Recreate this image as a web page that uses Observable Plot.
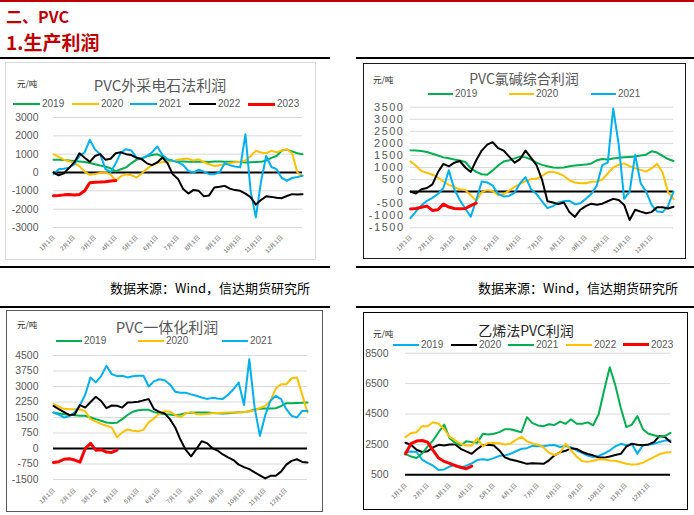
<!DOCTYPE html>
<html><head><meta charset="utf-8">
<script src="https://cdn.jsdelivr.net/npm/d3@7"></script>
<script src="https://cdn.jsdelivr.net/npm/@observablehq/plot@0.6"></script>
<style>
html,body{margin:0;padding:0;background:#fff;}
#page{position:relative;width:694px;height:515px;overflow:hidden;background:#fff;font-family:"Liberation Sans",Arial,"Noto Sans CJK SC",sans-serif;}
.hline{position:absolute;height:1.5px;background:#000;}
.box{position:absolute;box-sizing:border-box;}
.wrap{position:absolute;}
.wrap svg{display:block;overflow:visible;}
.unit{position:absolute;font-size:8.5px;color:#262626;font-family:"Noto Sans CJK SC",sans-serif;line-height:1;transform:translateY(-50%);white-space:nowrap;}
.title{position:absolute;font-size:15px;color:#595959;font-family:"Noto Sans CJK SC",sans-serif;line-height:1;white-space:nowrap;transform:translate(-50%,-50%);}
.leg{position:absolute;display:flex;align-items:center;font-size:10px;color:#595959;line-height:1;transform:translateY(-50%);white-space:nowrap;}
.leg .sw{display:inline-block;margin-right:2px;}
.src{position:absolute;font-size:13px;color:#000;font-family:"Noto Sans CJK SC",sans-serif;white-space:nowrap;line-height:1;transform:translateY(-50%);}
.head{position:absolute;color:#c00000;font-weight:bold;font-family:"Noto Sans CJK SC",sans-serif;line-height:1;transform:translateY(-50%);white-space:nowrap;}
.wide g[aria-label="y-axis tick label"] text{letter-spacing:1.5px;}
</style></head>
<body><div id="page"></div>
<script>
// ---------- data ----------
const STEP = 0.25; // sampling interval of every series, in months from 1月1日
const MONTH_TICKS = [0,1,2,3,4,5,6,7,8,9,10,11];
const MONTH_LABELS = ["1月1日","2月1日","3月1日","4月1日","5月1日","6月1日","7月1日","8月1日","9月1日","10月1日","11月1日","12月1日"];
const YEARS = ["2019","2020","2021","2022","2023"];

// PVC外采电石法利润
const wc2019 = [690,690,680,660,630,600,570,520,450,380,320,230,60,180,280,500,700,780,880,950,1000,850,700,640,600,600,580,580,580,580,570,600,600,590,580,580,570,550,560,570,580,650,800,900,1200,1250,1150,1050,1000];
const wc2020 = [1000,850,700,620,520,350,50,-130,-80,-20,0,-100,-450,-200,-100,-150,-270,-50,200,400,530,560,580,620,700,740,760,650,720,560,450,360,400,450,520,560,580,650,900,1180,1090,1050,1180,1100,1200,1270,1050,0,-180];
const wc2021 = [-90,180,200,260,450,900,1100,1780,1250,1000,200,20,500,1100,1270,1200,820,750,900,1100,1420,950,720,640,550,400,80,0,150,50,-90,-90,0,500,400,330,280,2090,-1000,-2450,-500,900,300,180,-300,-450,-300,-250,-180];
const wc2022 = [0,-150,-50,250,550,1050,800,580,900,1000,700,750,1050,1100,1000,950,800,730,500,400,550,820,500,-100,-350,-900,-1150,-950,-1000,-1300,-1250,-820,-780,-730,-880,-960,-1000,-1150,-1350,-1750,-1500,-1300,-1330,-1380,-1400,-1280,-1180,-1200,-1180];
const wc2023 = [-1270,-1250,-1220,-1200,-1230,-1200,-1000,-560,-530,-520,-500,-460,-440];
const wcTicks = [-3000,-2000,-1000,0,1000,2000,3000];

// PVC氯碱综合利润
const lj2019 = [1710,1700,1680,1640,1570,1500,1420,1380,1330,1290,1230,970,820,720,700,880,1080,1250,1300,1380,1450,1420,1330,1200,1110,1050,1000,990,1000,1050,1080,1100,1120,1170,1300,1350,1330,1370,1400,1420,1440,1460,1500,1530,1670,1620,1480,1350,1270];
const lj2020 = [1250,1070,850,780,700,580,420,280,180,100,70,-150,-380,-20,60,20,-150,-100,40,200,320,440,520,530,650,800,820,760,650,470,380,350,350,410,420,500,750,1000,1110,1170,1050,970,900,830,960,1150,800,-20,-310];
const lj2021 = [-1100,-820,-580,-380,-260,-100,150,880,100,-350,-700,-1040,-350,420,380,250,-100,-200,-180,-50,350,600,100,-100,-400,-680,-600,-450,-400,-380,-520,-480,-300,-100,250,1100,1200,3450,1950,-300,0,1530,350,0,-550,-820,-850,-600,0];
const lj2022 = [0,-80,100,150,300,800,1150,1050,1200,1270,1000,820,1300,1700,1950,2050,1800,1700,1450,1200,1350,1700,1400,1100,500,-400,-450,-520,-450,-850,-1050,-750,-600,-500,-540,-500,-400,-300,-350,-550,-1180,-750,-830,-900,-850,-650,-650,-700,-630];
const lj2023 = [-720,-700,-650,-600,-780,-750,-520,-640,-700,-710,-700,-580,-480];
const ljTicks = [-1500,-1000,-500,0,500,1000,1500,2000,2500,3000,3500];

// PVC一体化利润
const yt2019 = [1740,1700,1660,1630,1610,1590,1580,1510,1420,1340,1260,1230,1250,1420,1620,1780,1850,1880,1870,1760,1700,1660,1640,1610,1650,1710,1730,1740,1740,1740,1720,1700,1690,1700,1730,1750,1760,1800,1890,1920,1940,1940,1950,2050,2190,2190,2200,2210,2230];
const yt2020 = [2150,2020,1920,1900,1900,1890,1800,1420,1300,1190,1100,1020,550,780,920,860,830,900,1270,1460,1680,1800,1780,1620,1520,1700,1760,1660,1660,1670,1700,1720,1730,1740,1740,1750,1770,1800,1850,1960,2060,2300,2900,3110,3110,3400,3440,2600,1740];
const yt2021 = [1740,1640,1500,1560,1750,2100,2600,3440,3200,3500,4000,3600,3500,3520,3440,3500,3520,3520,3000,3250,3350,3300,3100,2750,2700,2700,2620,2550,2470,2400,2450,2420,2400,2600,2870,3190,2100,4320,2000,610,1600,2310,2550,2390,1900,1580,1500,1820,1820];
const yt2022 = [2060,1900,1760,1620,1650,2100,1980,2250,2500,2300,1950,2080,2070,1980,2230,2240,2260,2330,2390,1900,1770,1700,1420,1020,420,-70,-380,-30,350,260,20,-100,-290,-430,-560,-780,-900,-1000,-1150,-1300,-1450,-1320,-1320,-1120,-780,-600,-520,-650,-680];
const yt2023 = [-680,-640,-520,-500,-560,-660,0,250,-80,-60,-170,-190,-80];
const ytTicks = [-1500,-750,0,750,1500,2250,3000,3750,4500];

// 乙烯法PVC利润
const yx2019 = [1990,2040,2000,1500,1290,1100,820,850,1050,1160,940,1100,1250,1470,1530,1480,1600,1750,1770,1880,2050,2210,2250,2400,2380,2380,2440,2460,2330,2400,2300,2100,1950,1760,1670,1740,1900,2100,2370,2540,2440,2520,1880,2450,2480,2540,2660,2750,2760];
const yx2020 = [2610,2470,2150,2000,2050,2300,2470,2430,2500,2500,2210,2040,1880,2200,2450,2480,2430,2100,1650,1500,1420,1320,1220,1260,1240,1220,1450,1780,1980,2080,2250,2200,2000,1870,1780,1630,1630,1700,1800,1880,2350,2540,2470,2450,2500,2650,3050,2980,2650];
const yx2021 = [1880,1700,1600,1900,2350,2760,3300,3800,2900,2600,2430,2700,2650,2600,3200,3150,3200,3310,3500,3500,3400,3300,4290,3900,3750,3700,3830,3780,4000,3860,4150,3860,3860,3950,3760,4500,6100,7580,6400,4900,3640,3800,4360,3500,3200,3100,3000,3050,3260];
const yx2022 = [2980,3250,3300,3700,3700,3960,3860,3500,3000,2760,2540,2430,2430,2900,2380,2600,2600,2580,2500,2550,2800,3000,2700,2560,2480,2300,1950,1800,1950,2540,2100,1700,1400,1350,1420,1520,1500,1440,1420,1330,1230,1170,1190,1300,1480,1660,1850,1960,1990];
const yx2023 = [1880,2550,2720,2760,2650,2100,1600,1380,1250,1100,1000,900,1070];
const yxTicks = [500,2500,4500,6500,8500];

// ---------- styles ----------
const GREEN = "#00b050", YELLOW = "#ffc000", BLUE = "#00b0f0", BLACK = "#000000", RED = "#ff0000";
const rows = values => values.map((v, i) => ({m: i * STEP, v}));

const panels = [
  {box:[5,62,311,198], border:"1px solid #d9d9d9", margins:[55,14,33,48], yDomain:[-3000,3000], yTicks:wcTicks, base:0, yPad:15, yFont:10.5, xPad:9,
   title:"PVC外采电石法利润", titleSize:15, titleAt:[160,84], unitAt:[17,83], legendY:104, legendX:[13,72,130,189,248], swatch:27,
   series:[[wc2019,GREEN,2,true],[wc2020,YELLOW,2,true],[wc2021,BLUE,2,true],[wc2022,BLACK,2,true],[wc2023,RED,3,true]]},
  {box:[363,63,323,196], border:"1px solid #1a1a1a", margins:[43.7,13,31.7,47], yDomain:[-1500,3500], yTicks:ljTicks, base:0, yPad:6, yFont:11, xPad:9, wide:true,
   title:"PVC氯碱综合利润", titleSize:14, titleAt:[524,77.5], unitAt:[373,79], legendY:93.5, legendX:[428,509,591], swatch:25,
   series:[[lj2019,GREEN,2,true],[lj2020,YELLOW,2,true],[lj2021,BLUE,2,true],[lj2022,BLACK,2,false],[lj2023,RED,3,false]]},
  {box:[6,310,317,202], border:"1px solid #595959", margins:[45,16,33,47], yDomain:[-1500,4500], yTicks:ytTicks, base:0, yPad:15, yFont:10.5, xPad:10,
   title:"PVC一体化利润", titleSize:15, titleAt:[167,326], unitAt:[17,324], legendY:341, legendX:[56,138,222], swatch:26,
   series:[[yt2019,GREEN,2,true],[yt2020,YELLOW,2,true],[yt2021,BLUE,2,true],[yt2022,BLACK,2,false],[yt2023,RED,3,false]]},
  {box:[363,312,325,198], border:"1.5px solid #000", margins:[40.7,18,35.7,42], yDomain:[500,8500], yTicks:yxTicks, base:500, yPad:17, yFont:10.5, xPad:10, darkTitle:true,
   title:"乙烯法PVC利润", titleSize:14, titleAt:[526,329.5], unitAt:[373,333], legendY:344.5, legendX:[393,451,508,566,623], swatch:26,
   series:[[yx2019,BLUE,2,true],[yx2020,BLACK,2,true],[yx2021,GREEN,2,true],[yx2022,YELLOW,2,true],[yx2023,RED,3,true]]}
];

const page = document.getElementById("page");
function el(cls, css, text) {
  const d = document.createElement("div");
  d.className = cls;
  Object.assign(d.style, css);
  if (text != null) d.textContent = text;
  page.appendChild(d);
  return d;
}

// page furniture
el("", {position:"absolute", left:"0px", top:"0px", width:"694px", height:"2px", background:"#c00000"});
el("head", {left:"6px", top:"15.5px", fontSize:"16px"}, "二、PVC");
el("head", {left:"6px", top:"41px", fontSize:"19px"}, "1.生产利润");
[[0,57,330],[356,57,338],[0,266,330],[356,266,338],[0,306,330],[356,306,338]].forEach(([x,y,w]) =>
  el("hline", {left:x+"px", top:y+"px", width:w+"px"}));
el("src", {left:"110px", top:"287px"}, "数据来源：Wind，信达期货研究所");
el("src", {left:"478px", top:"287px"}, "数据来源：Wind，信达期货研究所");

panels.forEach(p => {
  const [bx, by, bw, bh] = p.box;
  el("box", {left:bx+"px", top:by+"px", width:bw+"px", height:bh+"px", border:p.border});
  const [mt, mr, mb, ml] = p.margins;
  const marks = [
    Plot.ruleY(p.yTicks, {stroke:"#d9d9d9", strokeWidth:1}),
    Plot.ruleY([p.base], {stroke:"#000", strokeWidth:2}),
    ...p.series.map(([vals, color, w]) => Plot.line(rows(vals), {x:"m", y:"v", stroke:color, strokeWidth:w})),
    Plot.axisY({ticks:p.yTicks, tickFormat:d => String(d), tickSize:0, tickPadding:p.yPad, fontSize:p.yFont, label:null}),
    Plot.axisX({ticks:MONTH_TICKS, tickFormat:i => MONTH_LABELS[i], tickRotate:-45, tickSize:0, tickPadding:p.xPad, fontSize:6, label:null, textAnchor:"end"})
  ];
  const svg = Plot.plot({
    width:bw, height:bh, marginTop:mt, marginRight:mr, marginBottom:mb, marginLeft:ml,
    x:{domain:[0,12]}, y:{domain:p.yDomain},
    style:{color:"#595959", background:"transparent", fontFamily:'"Liberation Sans", Arial, sans-serif'},
    marks
  });
  const w = el("wrap" + (p.wide ? " wide" : ""), {left:bx+"px", top:by+"px", width:bw+"px", height:bh+"px"});
  w.appendChild(svg);
  const t = el("title", {left:p.titleAt[0]+"px", top:p.titleAt[1]+"px", fontSize:p.titleSize+"px"}, p.title);
  if (p.darkTitle) t.style.color = "#262626";
  el("unit", {left:p.unitAt[0]+"px", top:p.unitAt[1]+"px"}, "元/吨");
  let k = 0;
  p.series.forEach(([vals, color, w2, inLegend], i) => {
    if (!inLegend) return;
    const item = el("leg", {left:p.legendX[k]+"px", top:p.legendY+"px"});
    const sw = document.createElement("span");
    sw.className = "sw";
    sw.style.width = p.swatch + "px";
    sw.style.height = w2 + "px";
    sw.style.background = color;
    item.appendChild(sw);
    item.appendChild(document.createTextNode(YEARS[i]));
    k++;
  });
});
</script>
</body></html>
